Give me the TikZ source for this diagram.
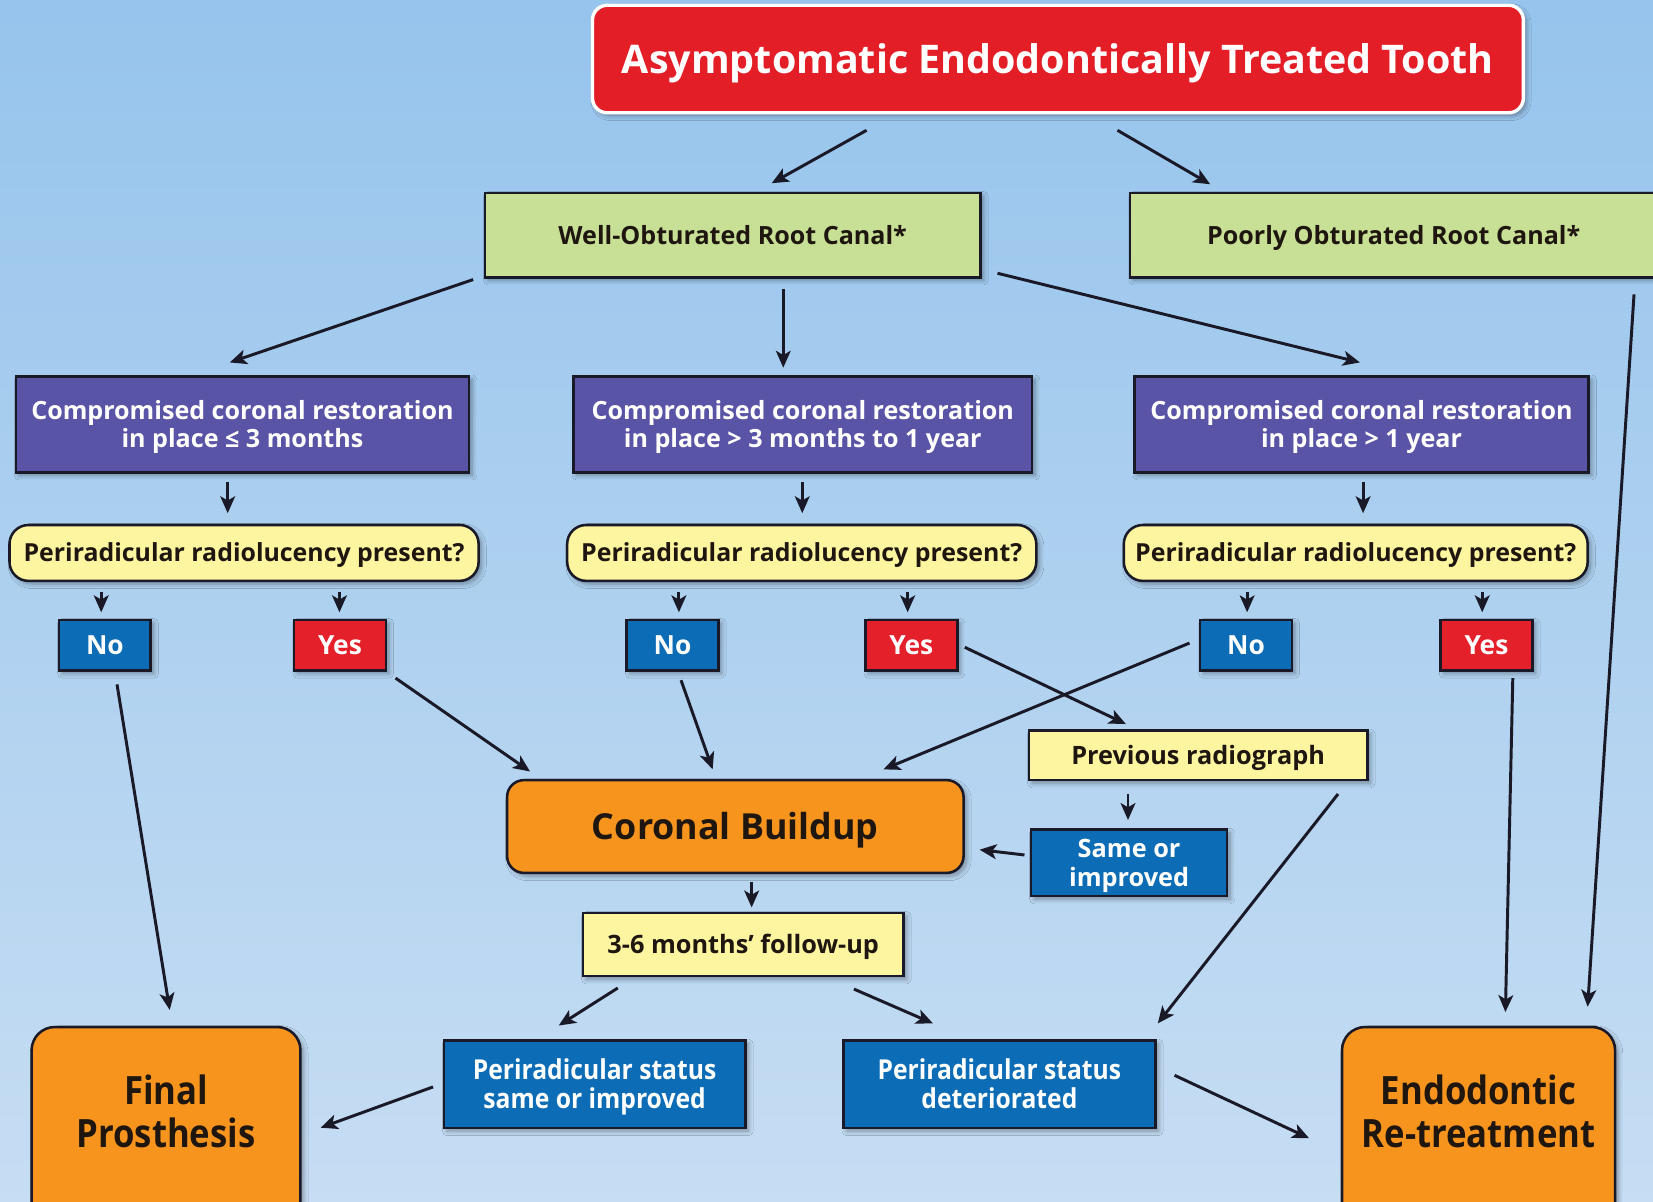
\documentclass[tikz,border=0pt]{standalone}
\usepackage{fontspec}
\setmainfont{Open Sans}
\newfontfamily\condfont{Open Sans}[FakeStretch=0.9]
\newfontfamily\condbig{Open Sans}[FakeStretch=0.89]
\usetikzlibrary{calc,arrows.meta,shadows.blur}
\definecolor{bgtop}{RGB}{150,196,236}
\definecolor{bgbot}{RGB}{198,221,243}
\definecolor{titred}{RGB}{228,30,38}
\definecolor{grn}{RGB}{199,224,150}
\definecolor{purp}{RGB}{90,84,166}
\definecolor{ylw}{RGB}{254,245,160}
\definecolor{blu}{RGB}{12,108,182}
\definecolor{rd}{RGB}{228,32,42}
\definecolor{orng}{RGB}{247,148,30}
\definecolor{bord}{RGB}{25,25,40}
\definecolor{ink}{RGB}{30,22,15}
\tikzset{
  base/.style={draw=bord, line width=1.2pt, inner sep=0pt, align=center,
    blur shadow={shadow xshift=1.5pt, shadow yshift=-1.5pt, shadow opacity=35, shadow blur steps=6}},
  titlebox/.style={base, draw=white, line width=1.6pt, fill=titred, rounded corners=7pt, text=white,
    font=\bfseries\fontsize{18.7}{22}\selectfont, text height=13.3pt, text depth=0pt},
  greenbox/.style={base, fill=grn, text=ink, font=\bfseries\fontsize{11.9}{13.5}\selectfont,
    text height=8.5pt, text depth=0pt},
  purpbox/.style={base, fill=purp, text=white, font=\bfseries\fontsize{11.9}{13.5}\selectfont,
    text height=22pt, text depth=0pt},
  qbox/.style={base, fill=ylw, rounded corners=9pt, text=ink, font=\bfseries\fontsize{11.8}{13.5}\selectfont,
    text height=8.4pt, text depth=0pt},
  nobox/.style={base, fill=blu, text=white, font=\bfseries\fontsize{12.5}{13.5}\selectfont,
    minimum width=43.5pt, minimum height=24pt, text height=8.9pt, text depth=0pt},
  yesbox/.style={nobox, fill=rd},
  ybox/.style={base, fill=ylw, text=ink, font=\bfseries\fontsize{12}{13.5}\selectfont,
    text height=8.6pt, text depth=0pt},
  bbox/.style={base, fill=blu, text=white, font=\bfseries\fontsize{12}{13.5}\selectfont,
    text height=22.1pt, text depth=0pt},
  sbox/.style={base, fill=blu, text=white, font=\condfont\bfseries\fontsize{13}{13.6}\selectfont,
    text height=22.9pt, text depth=0pt},
  obox/.style={base, fill=orng, rounded corners=8pt, text=ink, font=\bfseries\fontsize{17}{20}\selectfont,
    text height=12.1pt, text depth=0pt},
  endbox/.style={base, fill=orng, rounded corners=11pt},
  endtxt/.style={text=ink, align=center, font=\condbig\bfseries\fontsize{18.5}{20}\selectfont},
  arr/.style={draw=bord, line width=1.4pt, -{Stealth[length=8pt,width=7pt,inset=2pt]}}
}
\begin{document}
\begin{tikzpicture}[x=0.5pt,y=-0.5pt]
\fill[top color=bgtop, bottom color=bgbot] (0,0) rectangle (1568,1140);
\useasboundingbox (0,0) rectangle (1568,1140);

\node[titlebox, minimum width=441.5pt, minimum height=51pt] (title) at (1003.5,56) {Asymptomatic Endodontically Treated Tooth};
\node[greenbox, minimum width=235pt, minimum height=40pt] (well) at (695,223) {Well-Obturated Root Canal*};
\node[greenbox, minimum width=250pt, minimum height=40pt] (poor) at (1322,223) {Poorly Obturated Root Canal*};

\node[purpbox, minimum width=215pt, minimum height=45.5pt] (p1) at (230,402.5) {Compromised coronal restoration\\in place ≤ 3 months};
\node[purpbox, minimum width=217.5pt, minimum height=45.5pt] (p2) at (761.5,402.5) {Compromised coronal restoration\\in place > 3 months to 1 year};
\node[purpbox, minimum width=215.5pt, minimum height=45.5pt] (p3) at (1291.5,402.5) {Compromised coronal restoration\\in place > 1 year};

\node[qbox, minimum width=222.5pt, minimum height=26.5pt] (y1) at (231.5,524.5) {Periradicular radiolucency present?};
\node[qbox, minimum width=222.5pt, minimum height=26.5pt] (y2) at (760.5,524.5) {Periradicular radiolucency present?};
\node[qbox, minimum width=220pt, minimum height=26.5pt] (y3) at (1286,524.5) {Periradicular radiolucency present?};

\node[nobox] (no1) at (99.5,612) {No};
\node[yesbox] (yes1) at (322.5,612) {Yes};
\node[nobox] (no2) at (638,612) {No};
\node[yesbox] (yes2) at (864.5,612) {Yes};
\node[nobox] (no3) at (1182,612) {No};
\node[yesbox] (yes3) at (1410,612) {Yes};

\node[ybox, minimum width=160.5pt, minimum height=23.5pt] (prev) at (1136.5,716.5) {Previous radiograph};
\node[bbox, minimum width=93pt, minimum height=31.5pt] (same) at (1071,818.5) {Same or\\improved};
\node[obox, minimum width=216.5pt, minimum height=44pt] (coronal) at (697.5,784) {Coronal Buildup};
\node[ybox, minimum width=152pt, minimum height=30pt] (follow) at (705,896) {3-6 months’ follow-up};

\node[sbox, minimum width=143pt, minimum height=41.5pt] (stsame) at (564,1028.5) {Periradicular status\\same or improved};
\node[sbox, minimum width=148pt, minimum height=41.5pt] (det) at (948,1028.5) {Periradicular status\\deteriorated};

\node[endbox, minimum width=127.5pt, minimum height=100pt, anchor=north,
  label={[endtxt, yshift=10pt]center:{Final\\Prosthesis}}] (final) at (157.5,973) {};
\node[endbox, minimum width=129.5pt, minimum height=100pt, anchor=north,
  label={[endtxt, yshift=10pt]center:{Endodontic\\Re-treatment}}] (endo) at (1402.5,973) {};

% arrows
\draw[arr] ($(title.south)+(-181.5,15)$) -- ($(well.north)+(37,-8)$);
\draw[arr] ($(title.south)+(56.5,15)$) -- ($(poor.north)+(-174,-7)$);
\draw[arr] ($(well.south west)+(-10,1)$) -- ($(p1.north)+(-12,-12)$);
\draw[arr] ($(well.south)+(48,10)$) -- ($(p2.north)+(-18.5,-7)$);
\draw[arr] ($(well.south east)+(15,-5)$) -- ($(p3.north)+(-1.5,-12)$);
\draw[arr] ($(poor.south)+(228,15)$) -- ($(endo.north)+(103.5,-18)$);

\draw[arr] ($(p1.south)+(-14,8)$) -- ($(y1.north -| p1.south)+(-14,-10)$);
\draw[arr] ($(p2.south)+(-0.5,8)$) -- ($(y2.north -| p2.south)+(-0.5,-10)$);
\draw[arr] ($(p3.south)+(1.5,8)$) -- ($(y3.north -| p3.south)+(1.5,-10)$);

\draw[arr] ($(y1.south -| no1.north)+(-3.5,9)$) -- ($(no1.north)+(-3.5,-6)$);
\draw[arr] ($(y1.south -| yes1.north)+(-0.5,9)$) -- ($(yes1.north)+(-0.5,-6)$);
\draw[arr] ($(y2.south -| no2.north)+(6,9)$) -- ($(no2.north)+(6,-6)$);
\draw[arr] ($(y2.south -| yes2.north)+(-3.5,9)$) -- ($(yes2.north)+(-3.5,-6)$);
\draw[arr] ($(y3.south -| no3.north)+(1,9)$) -- ($(no3.north)+(1,-6)$);
\draw[arr] ($(y3.south -| yes3.north)+(-4,9)$) -- ($(yes3.north)+(-4,-6)$);

\draw[arr] ($(no1.south)+(11.5,12)$) -- ($(final.north)+(3.5,-15)$);
\draw[arr] ($(yes1.south east)+(8,6)$) -- ($(coronal.north west)+(23,-7)$);
\draw[arr] ($(no2.south)+(8,8)$) -- ($(coronal.north)+(-21.5,-9)$);
\draw[arr] ($(no3.west)+(-9,-2)$) -- ($(coronal.north)+(140.5,-9)$);
\draw[arr] ($(yes2.east)+(6,2)$) -- ($(prev.north)+(-68.5,-5)$);
\draw[arr] ($(yes3.south)+(25,6)$) -- ($(endo.north)+(25.5,-13)$);
\draw[arr] ($(prev.south)+(-66.5,12)$) -- ($(same.north)+(-1,-8)$);
\draw[arr] ($(same.west)+(-5,-7.5)$) -- ($(coronal.east)+(14,22)$);
\draw[arr] ($(prev.south east)+(-29,12)$) -- ($(det.north east)+(1,-15)$);
\draw[arr] ($(coronal.south)+(15.5,7)$) -- ($(follow.north)+(8,-4)$);
\draw[arr] ($(follow.south)+(-119,10)$) -- ($(stsame.north)+(-34,-13)$);
\draw[arr] ($(follow.south)+(105,11)$) -- ($(det.north)+(-63,-15)$);
\draw[arr] ($(stsame.west)+(-9,2.5)$) -- ($(final.east)+(18,-4.5)$);
\draw[arr] ($(det.east)+(17,-8.5)$) -- ($(endo.west)+(-30,5.5)$);
\end{tikzpicture}
\end{document}
